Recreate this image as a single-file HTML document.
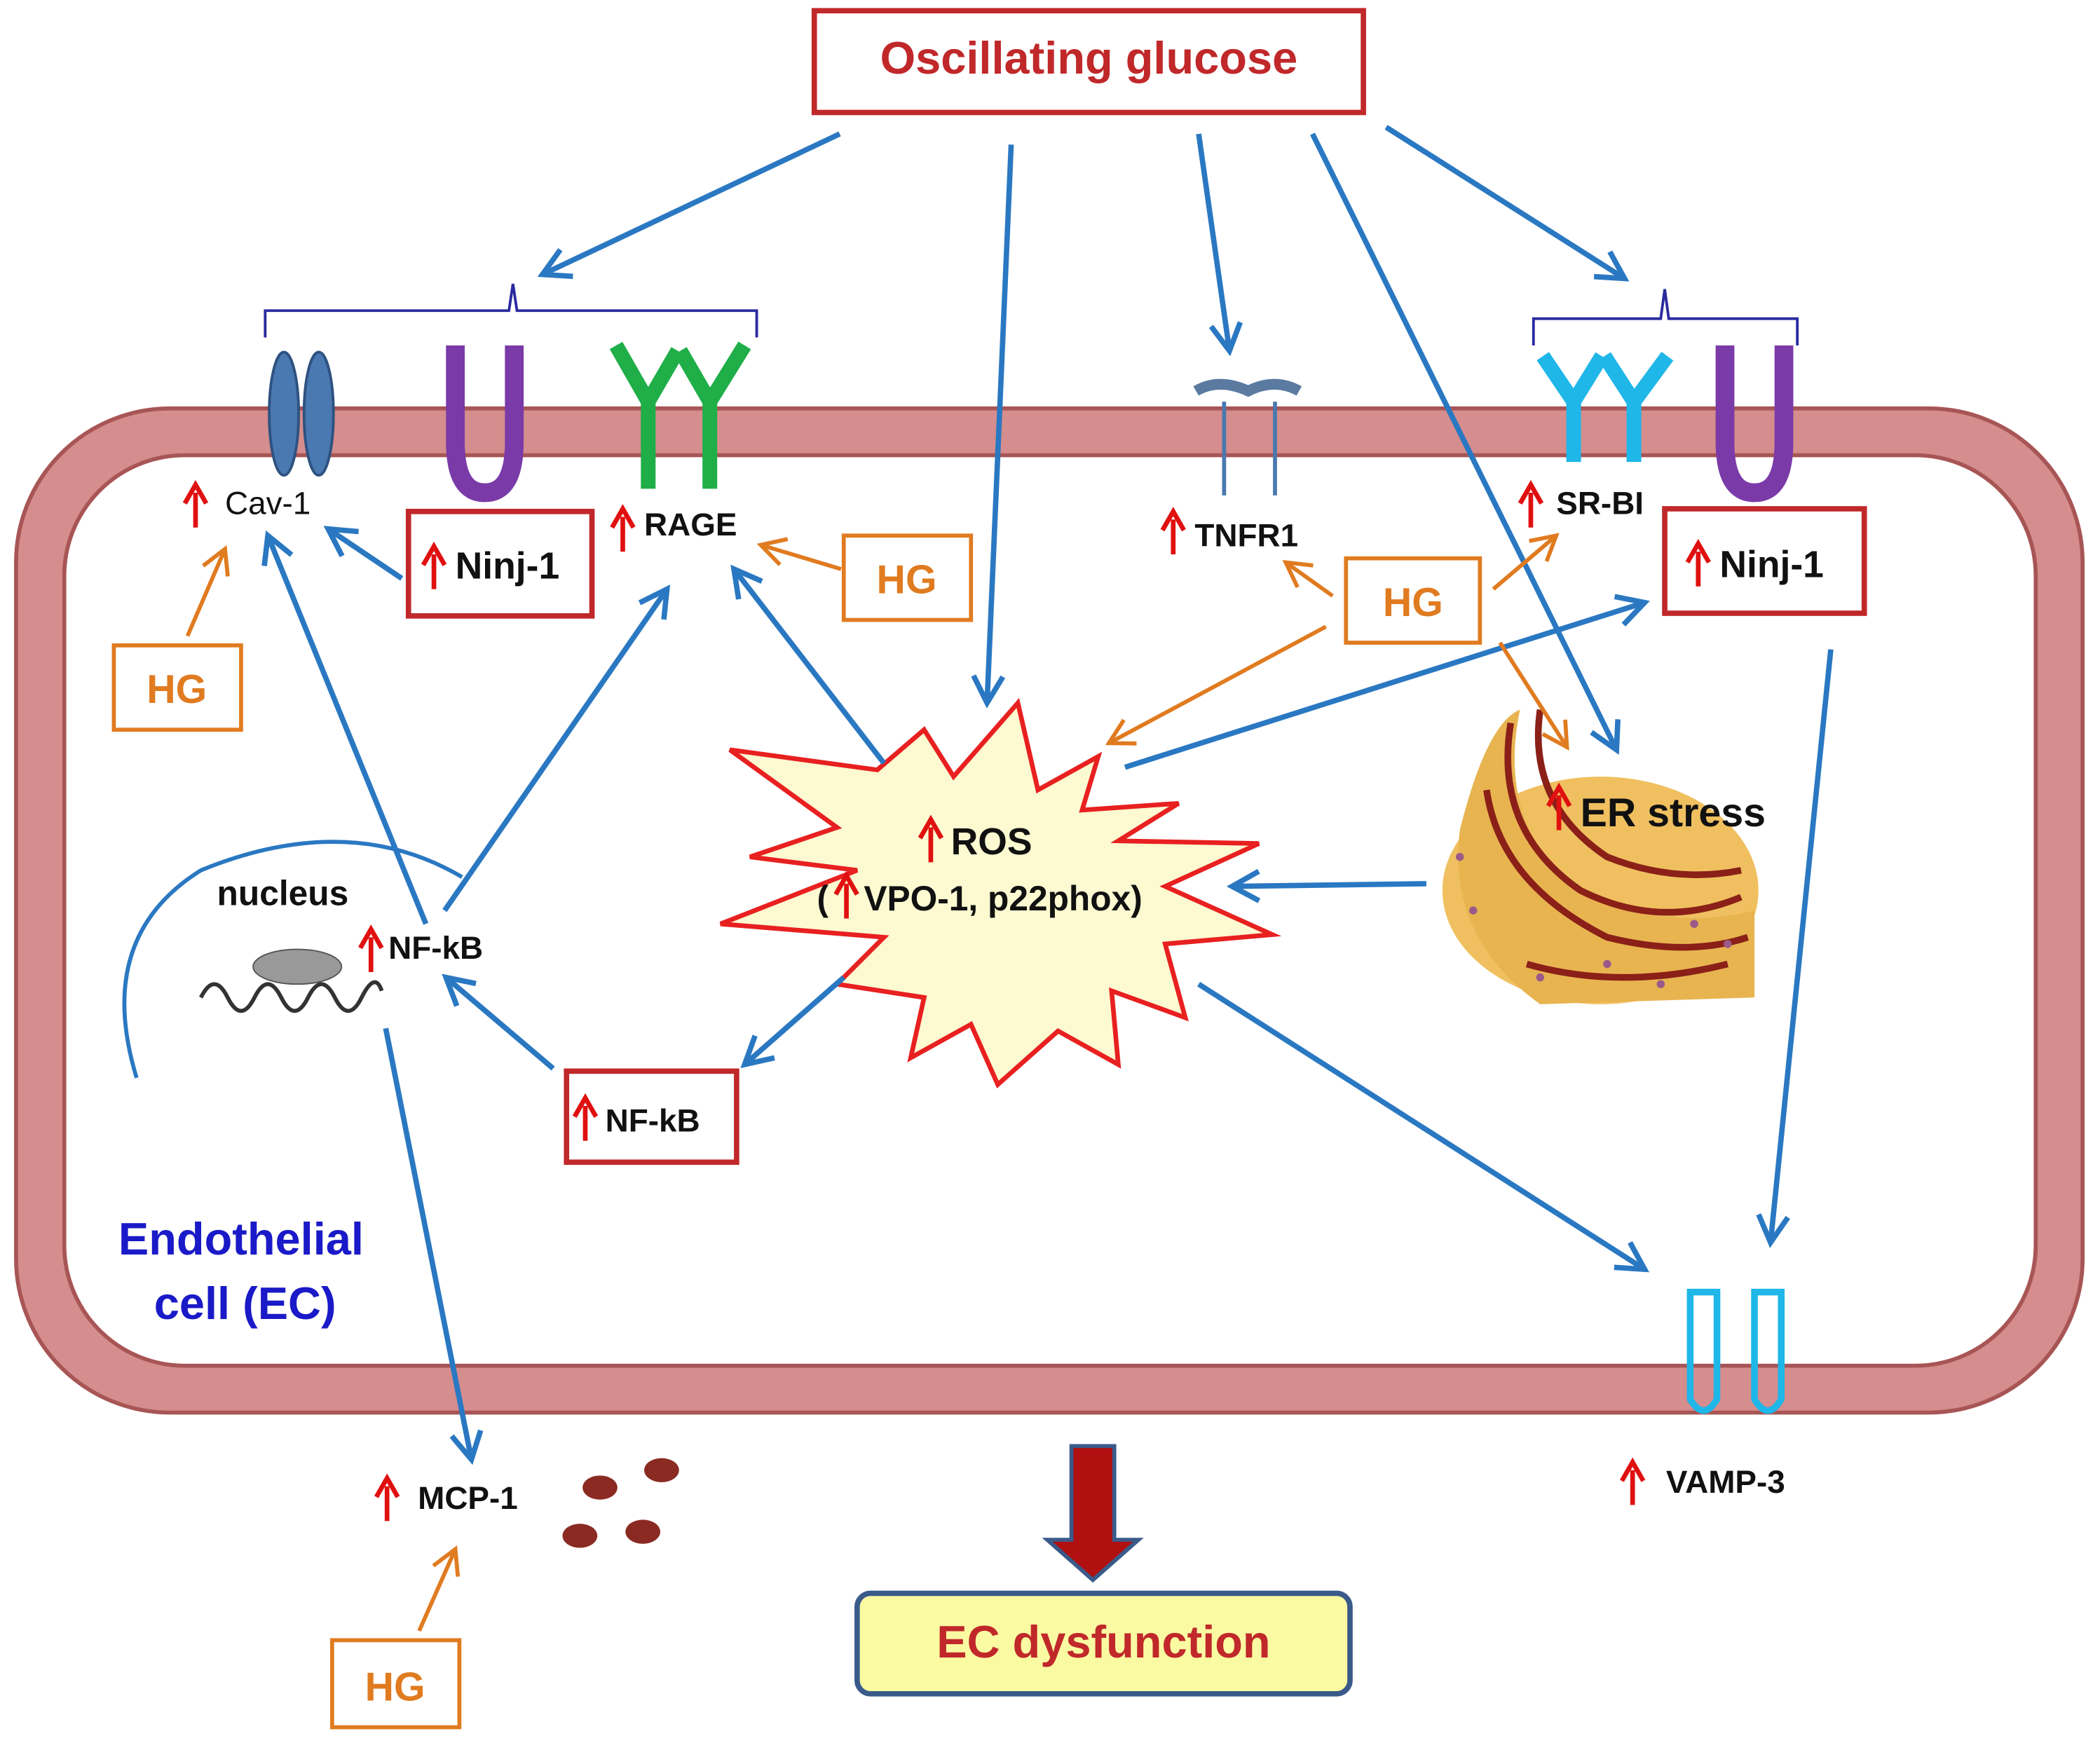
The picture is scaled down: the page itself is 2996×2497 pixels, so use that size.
<!DOCTYPE html>
<html><head><meta charset="utf-8"><style>
html,body{margin:0;padding:0;background:#fff}
svg{display:block}
text{font-family:"Liberation Sans",Arial,sans-serif;font-weight:bold}
</style></head><body>
<svg width="2996" height="2497" viewBox="0 0 1568 1307" preserveAspectRatio="none" xmlns="http://www.w3.org/2000/svg">
<defs>
<marker id="bb" markerWidth="26" markerHeight="26" refX="22" refY="13" orient="auto" markerUnits="userSpaceOnUse"><path d="M2,2 L22,13 L2,24" fill="none" stroke="#2a78c2" stroke-width="4"/></marker>
<marker id="oo" markerWidth="24" markerHeight="24" refX="20" refY="12" orient="auto" markerUnits="userSpaceOnUse"><path d="M2,2 L20,12 L2,22" fill="none" stroke="#e07b20" stroke-width="3"/></marker>
<g id="ua"><path d="M0,2 V-24" stroke="#e01010" stroke-width="3.5"/><path d="M-8,-16 L0,-30 L8,-16" fill="none" stroke="#e01010" stroke-width="3.5"/></g>
</defs>
<rect width="1568" height="1307" fill="#fff"/>
<rect x="12" y="305" width="1543" height="750" rx="115" fill="#d58d8d" stroke="#a85555" stroke-width="3"/>
<rect x="48" y="340" width="1472" height="680" rx="90" fill="#fff" stroke="#a85555" stroke-width="3"/>
<rect x="608" y="8" width="410" height="76" fill="#fff" stroke="#c0282a" stroke-width="4"/>
<text x="813" y="55" font-size="34" fill="#c0282a" text-anchor="middle">Oscillating glucose</text>
<path d="M198,252 V232 H380 L383,212 L386,232 H565 V252" fill="none" stroke="#2a2aa0" stroke-width="2"/>
<path d="M1145,258 V238 H1240 L1243,216 L1246,238 H1342 V258" fill="none" stroke="#2a2aa0" stroke-width="2"/>
<ellipse cx="212" cy="309" rx="11" ry="46" fill="#4a78b0" stroke="#2e5280" stroke-width="2"/>
<ellipse cx="238" cy="309" rx="11" ry="46" fill="#4a78b0" stroke="#2e5280" stroke-width="2"/>
<path d="M340,258 V330 Q340,368 362,368 Q384,368 384,330 V258" fill="none" stroke="#7a3aa8" stroke-width="14"/>
<path d="M1288,258 V330 Q1288,368 1310,368 Q1332,368 1332,330 V258" fill="none" stroke="#7a3aa8" stroke-width="14"/>
<g stroke="#1fae48" stroke-width="11" fill="none">
<path d="M484,365 V300 L460,258 M484,300 L506,262"/>
<path d="M530,365 V300 L508,262 M530,300 L556,258"/>
</g>
<g stroke="#1fb6e8" stroke-width="11" fill="none">
<path d="M1175,345 V300 L1152,266 M1175,300 L1196,266"/>
<path d="M1220,345 V300 L1198,266 M1220,300 L1245,266"/>
</g>
<g stroke="#4a78b0" stroke-width="3" fill="none">
<path d="M914,300 V370 M952,300 V370"/>
<path d="M893,292 Q910,282 932,292 Q952,282 970,292" stroke-width="8" stroke="#5a7aa0"/>
</g>
<g stroke="#1fb6e8" stroke-width="5" fill="none">
<path d="M1262,965 V1045 Q1272,1062 1282,1045 V965 Z"/>
<path d="M1310,965 V1045 Q1320,1062 1330,1045 V965 Z"/>
</g>
<g font-size="24" fill="#111">
<text x="168" y="384" style="font-weight:normal">Cav-1</text>
<text x="481" y="400">RAGE</text>
<text x="892" y="408">TNFR1</text>
<text x="1162" y="384">SR-BI</text>
<text x="290" y="716">NF-kB</text>
<text x="312" y="1127">MCP-1</text>
<text x="1244" y="1115">VAMP-3</text>
<text x="162" y="676" font-size="26">nucleus</text>
</g>
<use href="#ua" x="146" y="392"/><use href="#ua" x="465" y="410"/><use href="#ua" x="876" y="412"/>
<use href="#ua" x="1143" y="392"/><use href="#ua" x="277" y="724"/><use href="#ua" x="289" y="1134"/>
<use href="#ua" x="1219" y="1122"/>
<rect x="305" y="382" width="137" height="78" fill="#fff" stroke="#c0282a" stroke-width="4"/>
<use href="#ua" x="324" y="438"/><text x="340" y="432" font-size="28" fill="#111">Ninj-1</text>
<rect x="1243" y="380" width="149" height="78" fill="#fff" stroke="#c0282a" stroke-width="4"/>
<use href="#ua" x="1268" y="436"/><text x="1284" y="431" font-size="28" fill="#111">Ninj-1</text>
<rect x="423" y="800" width="127" height="68" fill="#fff" stroke="#c0282a" stroke-width="4"/>
<use href="#ua" x="437" y="850"/><text x="452" y="845" font-size="24" fill="#111">NF-kB</text>
<g fill="#fff" stroke="#e07b20" stroke-width="3">
<rect x="85" y="482" width="95" height="63"/><rect x="630" y="400" width="95" height="63"/>
<rect x="1005" y="417" width="100" height="63"/><rect x="248" y="1225" width="95" height="65"/>
</g>
<g font-size="30" fill="#e07b20" text-anchor="middle">
<text x="132" y="525">HG</text><text x="677" y="443">HG</text><text x="1055" y="460">HG</text><text x="295" y="1270">HG</text>
</g>
<path d="M102,805 Q70,700 150,650 Q260,605 345,655" fill="none" stroke="#2a78c2" stroke-width="3"/>
<ellipse cx="222" cy="722" rx="33" ry="13" fill="#999" stroke="#555"/>
<path d="M150,745 Q160,725 170,745 T190,745 T210,745 T230,745 T250,745 T270,745 T285,740" fill="none" stroke="#333" stroke-width="3"/>
<polygon points="655,575 690,545 712,580 760,525 775,590 820,565 808,605 880,600 835,628 940,630 870,662 950,698 870,705 885,760 830,740 835,795 790,770 745,810 725,765 680,790 690,745 625,735 660,700 538,690 640,650 560,640 625,618 545,560" fill="#fdfad2" stroke="#e82020" stroke-width="3.5"/>
<use href="#ua" x="695" y="642"/><text x="710" y="638" font-size="28" fill="#111">ROS</text>
<text x="610" y="680" font-size="26" fill="#111">(</text><use href="#ua" x="632" y="684"/><text x="645" y="680" font-size="26" fill="#111">VPO-1, p22phox)</text>
<g>
<ellipse cx="1195" cy="665" rx="118" ry="85" fill="#f0c060"/>
<path d="M1090,620 Q1110,540 1135,530 Q1120,600 1160,650 Q1230,700 1310,680 L1310,745 L1150,750 Q1080,700 1090,620Z" fill="#e8b450"/>
<g fill="none" stroke="#8a2018" stroke-width="5">
<path d="M1128,540 Q1115,620 1180,665 Q1240,695 1300,670"/>
<path d="M1110,590 Q1120,660 1200,700 Q1260,715 1305,700"/>
<path d="M1150,530 Q1140,600 1200,640 Q1250,660 1300,650"/>
<path d="M1140,720 Q1210,740 1290,720"/>
</g>
<g fill="#9a5a8a"><circle cx="1090" cy="640" r="3"/><circle cx="1150" cy="730" r="3"/><circle cx="1240" cy="735" r="3"/><circle cx="1290" cy="705" r="3"/><circle cx="1100" cy="680" r="3"/><circle cx="1200" cy="720" r="3"/><circle cx="1265" cy="690" r="3"/></g>
</g>
<use href="#ua" x="1164" y="618"/><text x="1180" y="617" font-size="30" fill="#111">ER stress</text>
<text x="180" y="937" font-size="34" fill="#1a1ac8" text-anchor="middle">Endothelial</text>
<text x="183" y="985" font-size="34" fill="#1a1ac8" text-anchor="middle">cell (EC)</text>
<g fill="#8a2a22"><ellipse cx="448" cy="1111" rx="13" ry="9"/><ellipse cx="494" cy="1098" rx="13" ry="9"/><ellipse cx="433" cy="1147" rx="13" ry="9"/><ellipse cx="480" cy="1144" rx="13" ry="9"/></g>
<path d="M800,1080 H832 V1150 H850 L816,1180 L782,1150 H800 Z" fill="#b01010" stroke="#3a5a8a" stroke-width="3"/>
<rect x="640" y="1190" width="368" height="75" rx="10" fill="#fafaa2" stroke="#3a5a8a" stroke-width="4"/>
<text x="824" y="1238" font-size="34" fill="#c0282a" text-anchor="middle">EC dysfunction</text>
<g stroke="#2a78c2" stroke-width="4" fill="none" marker-end="url(#bb)">
<line x1="627" y1="100" x2="405" y2="205"/>
<line x1="755" y1="108" x2="737" y2="525"/>
<line x1="895" y1="100" x2="918" y2="262"/>
<line x1="980" y1="100" x2="1207" y2="560"/>
<line x1="1035" y1="95" x2="1213" y2="208"/>
<line x1="300" y1="432" x2="245" y2="395"/>
<line x1="318" y1="690" x2="200" y2="400"/>
<line x1="332" y1="680" x2="498" y2="440"/>
<line x1="660" y1="570" x2="548" y2="425"/>
<line x1="840" y1="573" x2="1228" y2="450"/>
<line x1="1065" y1="660" x2="920" y2="662"/>
<line x1="630" y1="730" x2="556" y2="795"/>
<line x1="413" y1="798" x2="333" y2="730"/>
<line x1="895" y1="735" x2="1228" y2="948"/>
<line x1="1367" y1="485" x2="1322" y2="928"/>
<line x1="288" y1="768" x2="352" y2="1090"/>
</g>
<g stroke="#e07b20" stroke-width="3" fill="none" marker-end="url(#oo)">
<line x1="140" y1="475" x2="168" y2="410"/>
<line x1="628" y1="425" x2="568" y2="407"/>
<line x1="995" y1="445" x2="960" y2="420"/>
<line x1="1115" y1="440" x2="1162" y2="400"/>
<line x1="1120" y1="480" x2="1170" y2="558"/>
<line x1="990" y1="468" x2="828" y2="555"/>
<line x1="313" y1="1218" x2="340" y2="1157"/>
</g>
</svg>
</body></html>
